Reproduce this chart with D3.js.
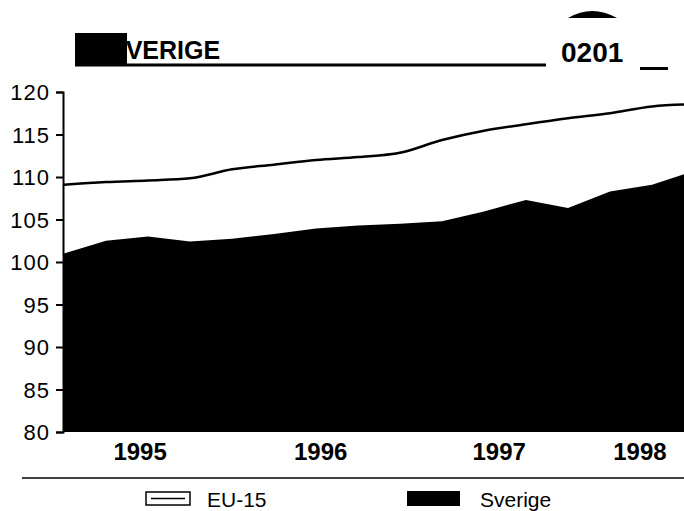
<!DOCTYPE html>
<html>
<head>
<meta charset="utf-8">
<script src="https://cdn.jsdelivr.net/npm/d3@7/dist/d3.min.js"></script>
<style>
  html, body { margin: 0; padding: 0; background: #fff; }
  svg { display: block; }
  text { font-family: "Liberation Sans", Arial, sans-serif; fill: #000; }
</style>
</head>
<body>
<svg id="chart" width="684" height="511"></svg>
<script>
// ---- data (quarterly, 1995 Q1 .. 1998 Q4) ----
const quarters = ["1995Q1","1995Q2","1995Q3","1995Q4","1996Q1","1996Q2","1996Q3","1996Q4",
                  "1997Q1","1997Q2","1997Q3","1997Q4","1998Q1","1998Q2","1998Q3","1998Q4"];
const eu15    = [109.1, 109.4, 109.6, 109.85, 110.9, 111.45, 112.0, 112.35,
                 112.85, 114.35, 115.45, 116.2, 116.9, 117.5, 118.3, 118.55];
const sverige = [101.0, 102.5, 103.0, 102.4, 102.75, 103.3, 103.95, 104.3,
                 104.5, 104.8, 105.95, 107.3, 106.35, 108.3, 109.1, 110.7];
const yTicks = [80, 85, 90, 95, 100, 105, 110, 115, 120];
const yearLabels = ["1995", "1996", "1997", "1998"];
const yearTickAt = [1.8, 6.1, 10.35, 13.7];   // label centres, in quarter-index units
const legendLabels = ["EU-15", "Sverige"];
const headerTitle = "SVERIGE";
const headerCode = "0201";

// ---- layout ----
const svg = d3.select("#chart");
const x = d3.scaleLinear().domain([0, quarters.length - 1]).range([64, 64 + 42 * 15]);
const y = d3.scaleLinear().domain([80, 120]).range([432, 92]);

const plot = svg.append("g");
plot.append("clipPath").attr("id", "clip")
  .append("rect").attr("x", 63).attr("y", 0).attr("width", 684 - 63).attr("height", 433);

// Sverige area (black)
const area = d3.area()
  .x((d, i) => x(i))
  .y0(y(80))
  .y1(d => y(d))
  .curve(d3.curveLinear);
plot.append("path")
  .datum(sverige)
  .attr("clip-path", "url(#clip)")
  .attr("d", area)
  .attr("fill", "#000");

// EU-15 line
const line = d3.line()
  .x((d, i) => x(i))
  .y(d => y(d))
  .curve(d3.curveMonotoneX);
plot.append("path")
  .datum(eu15)
  .attr("clip-path", "url(#clip)")
  .attr("d", line)
  .attr("fill", "none")
  .attr("stroke", "#000")
  .attr("stroke-width", 2.5);

// y axis
const yAxis = d3.axisLeft(y).tickValues(yTicks).tickSize(7).tickPadding(6).tickFormat(d3.format("d"));
const gy = svg.append("g").attr("transform", "translate(63,0)").call(yAxis);
gy.select(".domain").attr("stroke", "#000").attr("stroke-width", 2);
gy.selectAll(".tick line").attr("stroke", "#000").attr("stroke-width", 2);
gy.selectAll(".tick text").style("font-size", "22px").style("letter-spacing", "1px")
  .attr("dy", "0.36em");

// x axis (year labels only)
const xAxis = d3.axisBottom(x).tickValues(yearTickAt).tickSize(0).tickPadding(10)
  .tickFormat((d, i) => yearLabels[i]);
const gx = svg.append("g").attr("transform", "translate(0,433)").call(xAxis);
gx.select(".domain").remove();
gx.selectAll(".tick text").style("font-size", "24px").style("font-weight", "bold");

// separator line
svg.append("line").attr("x1", 22).attr("x2", 684).attr("y1", 478).attr("y2", 478)
  .attr("stroke", "#000").attr("stroke-width", 1.5);

// legend
const lg = svg.append("g");
lg.append("rect").attr("x", 146).attr("y", 492).attr("width", 44).attr("height", 13)
  .attr("fill", "#fff").attr("stroke", "#000").attr("stroke-width", 1.5);
lg.append("line").attr("x1", 151).attr("x2", 185).attr("y1", 498.5).attr("y2", 498.5)
  .attr("stroke", "#000").attr("stroke-width", 1.5);
lg.append("text").attr("x", 207).attr("y", 507).style("font-size", "21px").text(legendLabels[0]);
lg.append("rect").attr("x", 407).attr("y", 491).attr("width", 53).attr("height", 15).attr("fill", "#000");
lg.append("text").attr("x", 480).attr("y", 507).style("font-size", "21px").text(legendLabels[1]);

// header
const hd = svg.append("g");
hd.append("text").attr("x", 109).attr("y", 59)
  .style("font-size", "25px").style("font-weight", "bold").text(headerTitle);
hd.append("rect").attr("x", 75).attr("y", 33).attr("width", 52).attr("height", 32).attr("fill", "#000");
hd.append("line").attr("x1", 75).attr("x2", 546).attr("y1", 65).attr("y2", 65)
  .attr("stroke", "#000").attr("stroke-width", 3);
hd.append("text").attr("x", 561).attr("y", 62)
  .style("font-size", "28px").style("font-weight", "bold").text(headerCode);
hd.append("line").attr("x1", 640).attr("x2", 668).attr("y1", 68.5).attr("y2", 68.5)
  .attr("stroke", "#000").attr("stroke-width", 3);
hd.append("path")
  .attr("d", "M568,18 Q592,4 617,18 Z")
  .attr("fill", "#000");
</script>
</body>
</html>
